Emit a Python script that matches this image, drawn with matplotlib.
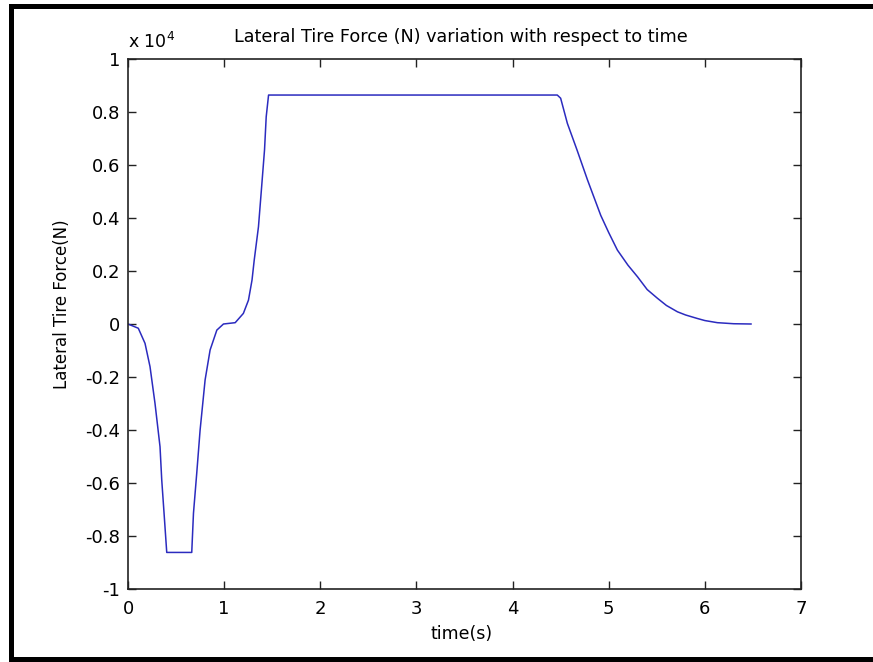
import numpy as np
import matplotlib
matplotlib.use("Agg")
import matplotlib.pyplot as plt
from matplotlib.patches import Rectangle

# values (force in units of 1e4 N)
time_s = [0.0, 0.107, 0.177, 0.229, 0.281, 0.333, 0.351, 0.375, 0.403,
          0.663, 0.681, 0.715, 0.75, 0.802, 0.854, 0.924, 0.993, 1.115,
          1.20, 1.253, 1.29, 1.3125, 1.357, 1.39, 1.42, 1.4375, 1.462,
          4.465, 4.5, 4.57, 4.67, 4.78, 4.917, 5.0, 5.09, 5.2, 5.30, 5.4,
          5.507, 5.6, 5.715, 5.8, 5.92, 6.0, 6.13, 6.3, 6.48]
force = [0.0, -0.016, -0.073, -0.161, -0.30, -0.463, -0.589, -0.714, -0.862,
         -0.862, -0.714, -0.563, -0.40, -0.211, -0.098, -0.023, 0.0, 0.005,
         0.04, 0.09, 0.166, 0.24, 0.367, 0.518, 0.657, 0.782, 0.864,
         0.864, 0.852, 0.757, 0.657, 0.543, 0.41, 0.345, 0.279, 0.222, 0.178, 0.13,
         0.097, 0.07, 0.046, 0.034, 0.021, 0.013, 0.005, 0.001, 0.0]

xticks = [0, 1, 2, 3, 4, 5, 6, 7]
yticks = [-1, -0.8, -0.6, -0.4, -0.2, 0, 0.2, 0.4, 0.6, 0.8, 1]
ytick_labels = ["-1", "-0.8", "-0.6", "-0.4", "-0.2", "0", "0.2", "0.4", "0.6", "0.8", "1"]

plt.rcParams['font.family'] = ['DejaVu Sans']

W, H = 873, 662
fig = plt.figure(figsize=(W / 100, H / 100), dpi=100)
ax = fig.add_axes([128 / W, 1 - 589 / H, (801 - 128) / W, (589 - 59) / H])

ax.plot(time_s, force, color='#2b2bbf', lw=1.1)
ax.set_xlim(0, 7)
ax.set_ylim(-1, 1)
ax.set_xticks(xticks)
ax.set_yticks(yticks)
ax.set_yticklabels(ytick_labels)
ax.tick_params(direction='in', length=6, width=1, top=True, right=True,
               labelsize=13, color='#222222')
ax.tick_params(axis='x', pad=8)
ax.tick_params(axis='y', pad=5.5)
for s in ax.spines.values():
    s.set_linewidth(1.2)
    s.set_color('#222222')

fig.text(462 / W, 1 - 634 / H, "time(s)", ha='center', va='center', fontsize=12.5)
fig.text(62 / W, 1 - 304 / H, "Lateral Tire Force(N)", ha='center', va='center',
         rotation=90, fontsize=12)
fig.text(461 / W, 1 - 37 / H, "Lateral Tire Force (N) variation with respect to time",
         ha='center', va='center', fontsize=12.7)
fig.text(128 / W, 1 - 42 / H, r"x 10$^{4}$", ha='left', va='center', fontsize=12.5)

# black frame around the picture (top, left, bottom)
fig.add_artist(Rectangle((9 / W, 1 - 9 / H), 1, 5 / H, transform=fig.transFigure,
                         color='black', lw=0))
fig.add_artist(Rectangle((9 / W, 0), 5 / W, 1 - 4 / H, transform=fig.transFigure,
                         color='black', lw=0))
fig.add_artist(Rectangle((9 / W, 0), 1, 5 / H, transform=fig.transFigure,
                         color='black', lw=0))

fig.savefig("out.png", dpi=100)
